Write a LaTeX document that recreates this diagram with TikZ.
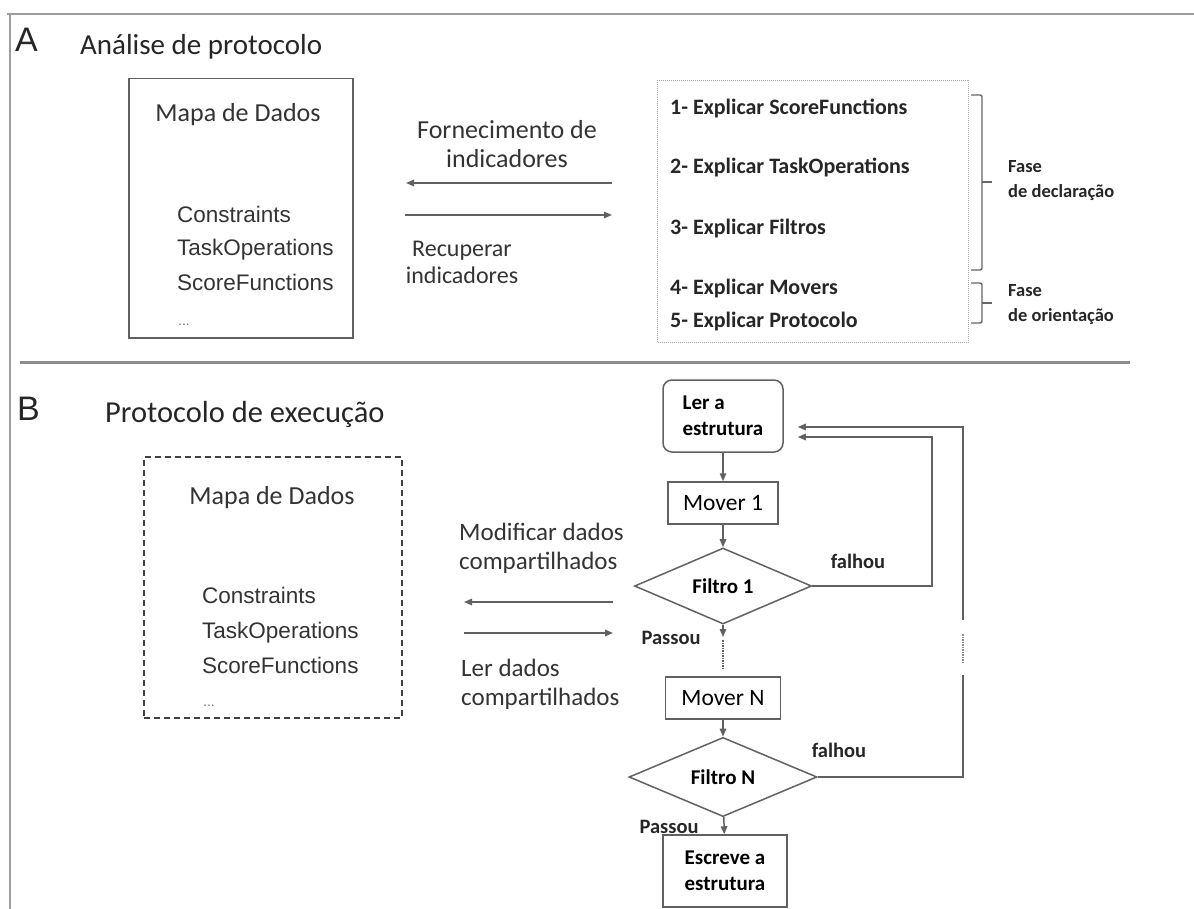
\documentclass[tikz,border=0pt]{standalone}
\usepackage{fontspec}
\setmainfont{Carlito}
\newfontfamily\arialfont{Liberation Sans}
\usetikzlibrary{arrows.meta,shapes.geometric,calc}

\tikzset{
  frameline/.style={draw=black!38, line width=2.8pt},
  boxline/.style={draw=black!62, line width=1.5pt},
  letter/.style={font=\arialfont\fontsize{34}{40}\selectfont, text=black!85, anchor=base west, inner sep=0pt},
  title/.style={font=\fontsize{29}{34}\selectfont, text=black!85, anchor=base west, inner sep=0pt},
  lbl/.style={font=\fontsize{25}{29}\selectfont, text=black!80, inner sep=0pt},
  listtxt/.style={font=\arialfont\fontsize{22.5}{26}\selectfont, text=black!80, anchor=base west, inner sep=0pt},
  itemtxt/.style={font=\bfseries\fontsize{22}{26}\selectfont, text=black!85, anchor=base west, inner sep=0pt},
  small/.style={font=\bfseries\fontsize{20.5}{26}\selectfont, text=black!85, inner sep=0pt},
  phase/.style={font=\bfseries\fontsize{18.5}{25}\selectfont, text=black!85, inner sep=0pt, align=left, anchor=west},
  flowbox/.style={boxline, fill=white, inner sep=0pt},
  decision/.style={diamond, boxline, inner sep=0pt, font=\bfseries\fontsize{21}{24}\selectfont},
  link/.style={draw=black!62, line width=1.5pt, -{Triangle[length=8pt,width=6.5pt]}},
  plainlink/.style={draw=black!62, line width=1.5pt},
  brace/.style={draw=black!60, line width=1.4pt, rounded corners=2pt},
}

\begin{document}
\begin{tikzpicture}[x=1pt,y=-1pt]
\useasboundingbox (0,0) rectangle (1194,909);

% outer frame (top and left edges) and section separator
\draw[frameline] (7,14) -- (1194,14);
\draw[frameline] (10,14) -- (10,909);
\draw[draw=black!45, line width=3pt] (20,362) -- (1130,362);

% ---------------- part A ----------------
\node[letter] (la) at (15,52) {A};
\node[title] (ta) at (80,55) {Análise de protocolo};

\node[boxline, minimum width=224pt, minimum height=259pt, anchor=north west] (mapa) at (128,78) {};
\node[lbl, font=\fontsize{26}{29}\selectfont] (mapat) at (238,115) {Mapa de Dados};
\node[listtxt] (ca) at (177,223) {Constraints};
\node[listtxt] (toa) at (177,256) {TaskOperations};
\node[listtxt] (sfa) at (177,291) {ScoreFunctions};
\node[listtxt, font=\arialfont\fontsize{14}{16}\selectfont, text=black!55] (da) at (178,326) {...};

\node[draw=black!35, line width=1pt, densely dotted, minimum width=311pt, minimum height=262pt, anchor=north west] (steps) at (657,80) {};
\node[itemtxt] (s1) at (670,115) {1- Explicar ScoreFunctions};
\node[itemtxt] (s2) at (670,174) {2- Explicar TaskOperations};
\node[itemtxt] (s3) at (670,235) {3- Explicar Filtros};
\node[itemtxt] (s4) at (670,295) {4- Explicar Movers};
\node[itemtxt] (s5) at (670,327) {5- Explicar Protocolo};

\node[lbl, font=\fontsize{26}{29}\selectfont, align=center] (forn) at (507,144) {Fornecimento de\\indicadores};
\node[lbl, align=center, font=\fontsize{24}{27}\selectfont] (recu) at (462,262) {Recuperar\\indicadores};

\coordinate (a1r) at (612,183);
\coordinate (a1l) at (406,183);
\coordinate (a2l) at (405,215);
\coordinate (a2r) at (612,215);
\draw[link] (a1r) -- (a1l);
\draw[link] (a2l) -- (a2r);

% phase braces
\draw[brace] (971,95) -- (982,95) -- (982,270) -- (971,270);
\draw[brace] (982,182) -- (992,182);
\draw[brace] (971,283) -- (982,283) -- (982,323) -- (971,323);
\draw[brace] (982,303) -- (992,303);
\node[phase] (fd) at (1008,181) {Fase\\de declaração};
\node[phase] (fo) at (1008,305) {Fase\\de orientação};

% ---------------- part B ----------------
\node[letter] (lb) at (17,420) {B};
\node[title, font=\fontsize{30.5}{34}\selectfont] (tb) at (105,422) {Protocolo de execução};

\node[draw=black!75, line width=1.6pt, dash pattern=on 6pt off 4pt, minimum width=258pt, minimum height=261pt, anchor=north west] (mapb) at (143,456) {};
\node[lbl, font=\fontsize{26}{29}\selectfont] (mapbt) at (272,498) {Mapa de Dados};
\node[listtxt] (cb) at (202,603) {Constraints};
\node[listtxt] (tob) at (202,638) {TaskOperations};
\node[listtxt] (sfb) at (202,673) {ScoreFunctions};
\node[listtxt, font=\arialfont\fontsize{14}{16}\selectfont, text=black!55] (db) at (203,706) {...};

\node[lbl, align=left, anchor=west] (modif) at (459,548) {Modificar dados\\compartilhados};
\node[lbl, align=left, anchor=west] (lerd) at (461,684) {Ler dados\\compartilhados};
\coordinate (b1r) at (613,602);
\coordinate (b1l) at (464,602);
\coordinate (b2l) at (464,633);
\coordinate (b2r) at (613,633);
\draw[link] (b1r) -- (b1l);
\draw[link] (b2l) -- (b2r);

% flowchart
\node[flowbox, rounded corners=9pt, minimum width=120pt, minimum height=72pt, align=left, font=\bfseries\fontsize{21}{26}\selectfont] (ler) at (723,416) {Ler a\\estrutura};
\node[flowbox, minimum width=110pt, minimum height=42pt, font=\fontsize{23.5}{26}\selectfont] (m1) at (723,503) {Mover 1};
\node[decision, minimum width=177pt, minimum height=61pt] (f1) at (723,586) {Filtro 1};
\node[flowbox, minimum width=115pt, minimum height=42pt, font=\fontsize{23.5}{26}\selectfont] (mn) at (723,698) {Mover N};
\node[decision, minimum width=188pt, minimum height=60pt] (fn) at (723,777) {Filtro N};
\node[flowbox, minimum width=124pt, minimum height=72pt, align=left, font=\bfseries\fontsize{21}{26}\selectfont] (esc) at (725,871) {Escreve a\\estrutura};

\node[small] (fa1) at (858,561) {falhou};
\node[small] (fa2) at (839,750) {falhou};
\node[small] (pa1) at (671,638) {Passou};
\node[small] (pa2) at (669,827) {Passou};

\coordinate (p1) at (723,637);
\coordinate (p1e) at (723,668);
\draw[link] (ler) -- (m1);
\draw[link] (m1) -- (f1);
\draw[link] (f1) -- (p1);
\draw[plainlink, densely dotted] (p1) ++(0,3) -- (p1e);
\draw[link] (mn) -- (fn);
\draw[link] (fn) -- (esc);

% failure loops back to the start
\coordinate (r1) at (932,437);
\draw[link, shorten >=14pt] (f1.east) -| (r1) -- (r1 -| ler.east);
\coordinate (r2) at (963,427);
\coordinate (r2a) at (963,620);
\coordinate (r2b) at (963,675);
\draw[plainlink] (fn.east) -| (r2b);
\draw[plainlink, densely dotted, draw=black!45] (r2b) ++(0,-12) -- ++(0,-30);
\draw[link, shorten >=14pt] (r2a) -- (r2) -- (r2 -| ler.east);
\end{tikzpicture}
\end{document}
